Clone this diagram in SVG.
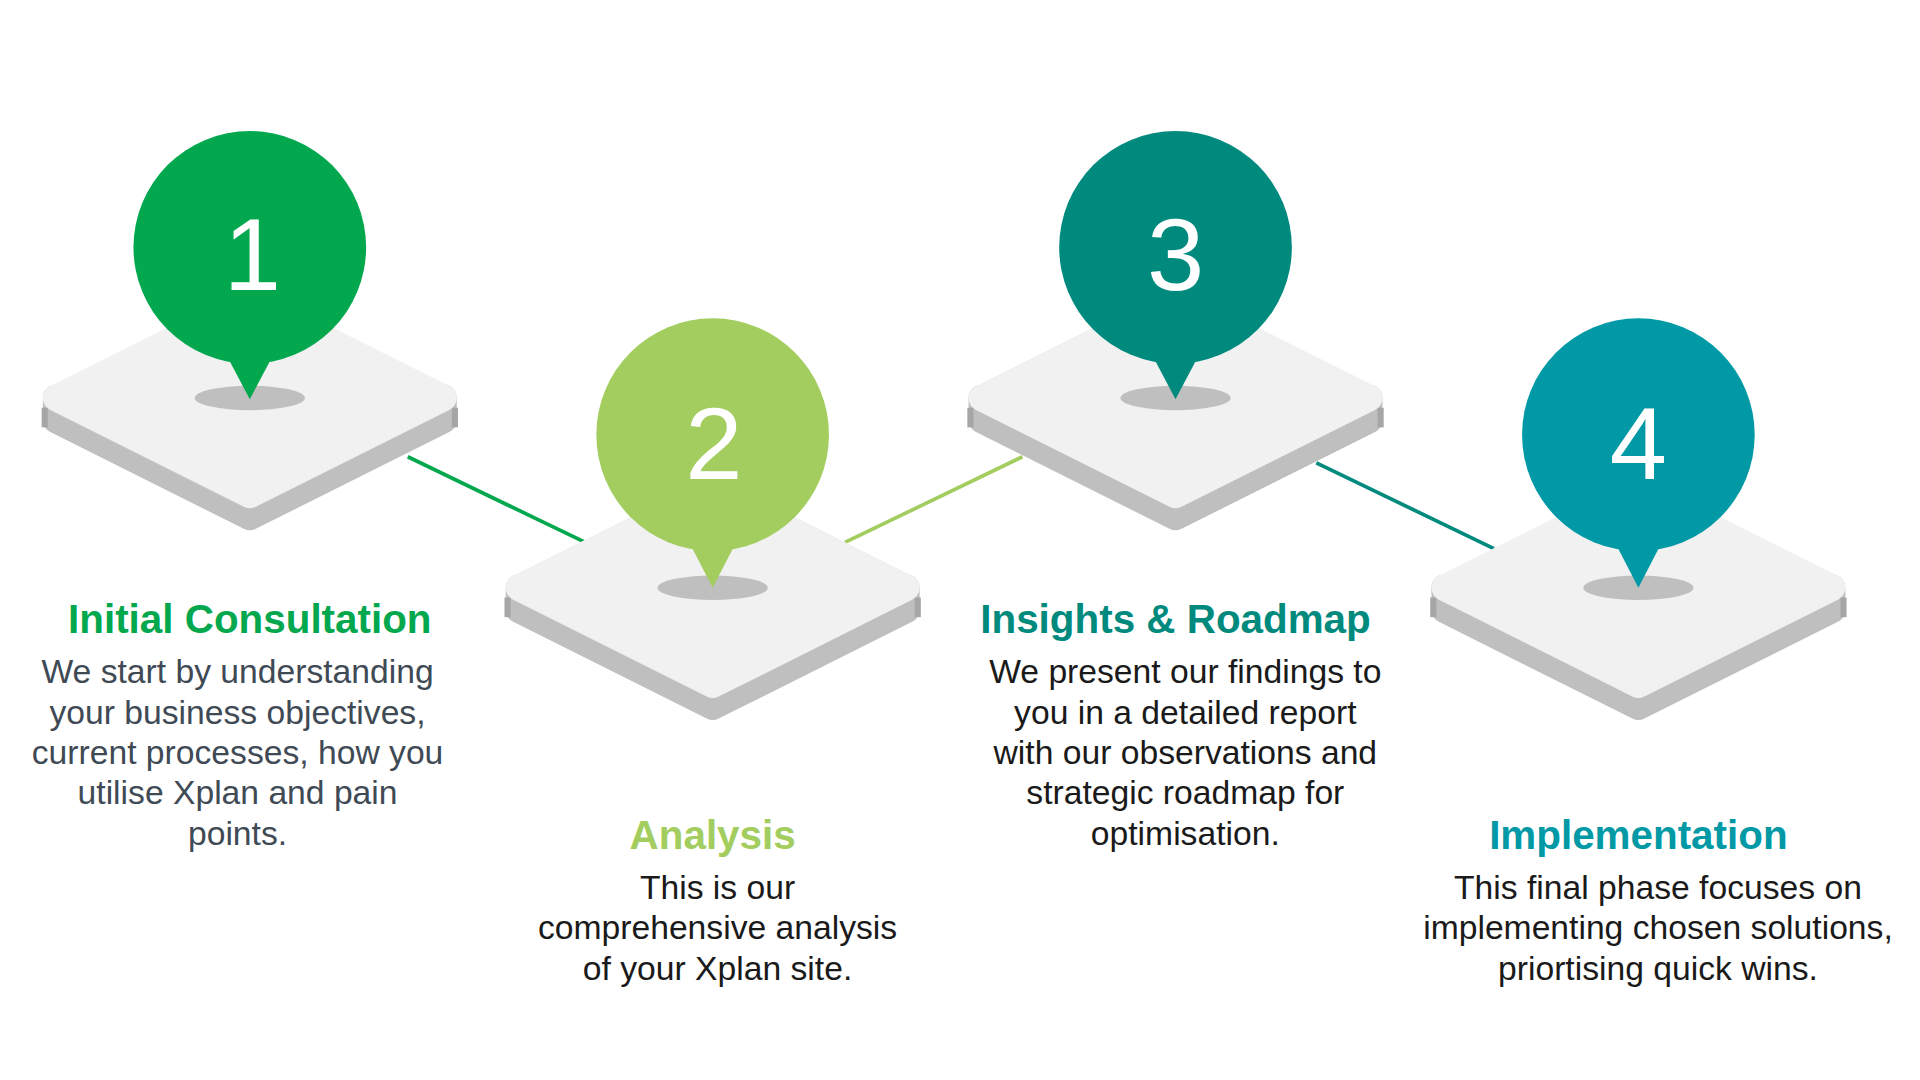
<svg xmlns="http://www.w3.org/2000/svg" width="1920" height="1080" viewBox="0 0 1920 1080">
<defs>
<style>
.top{fill:#f1f1f1;stroke:#f1f1f1;stroke-width:22;stroke-linejoin:round}
.side{fill:#bfbfbf;stroke:#bfbfbf;stroke-width:22;stroke-linejoin:round}
.sh{fill:#bfbfbf}
.num{font-family:"Liberation Sans",Arial,sans-serif;font-size:84px;fill:#fff;text-anchor:middle}
.t{font-family:"Liberation Sans",Arial,sans-serif;font-weight:bold;font-size:33px;text-anchor:middle}
.d{font-family:"Liberation Sans",Arial,sans-serif;font-size:27.5px;fill:#1a1a1a;text-anchor:middle}
</style>
<g id="plat">
<polygon class="side" points="-158,18 0,97 158,18 158,0 -158,0"/>
<polygon class="top" points="-158,0 0,-79 158,0 0,79"/>
<rect x="-170" y="8" width="5" height="16" fill="#a6a6a6"/>
<rect x="165" y="8" width="5" height="16" fill="#a6a6a6"/>
<ellipse class="sh" cx="0" cy="0" rx="45" ry="10"/>
</g>
</defs>
<rect width="1920" height="1080" fill="#fff"/>
<g transform="scale(1.2245)">
<g id="connectors" stroke-width="3">
<line x1="333" y1="373" x2="478" y2="443" stroke="#03a84e"/>
<line x1="690" y1="443" x2="835" y2="373" stroke="#a3cd5e"/>
<line x1="1075" y1="378" x2="1220" y2="448" stroke="#008a7e"/>
</g>
<g id="node1">
<use href="#plat" x="204" y="325"/>
<circle cx="204" cy="202" r="95" fill="#03a84e"/>
<polygon points="186,292 222,292 204,326" fill="#03a84e"/>
<text class="num" x="206" y="237">1</text>
<text class="t" x="204" y="517" fill="#03a84e">Initial Consultation</text>
<text class="d" x="194" y="558" style="fill:#404a55">We start by understanding<tspan x="194" dy="33">your business objectives,</tspan><tspan x="194" dy="33">current processes, how you</tspan><tspan x="194" dy="33">utilise Xplan and pain</tspan><tspan x="194" dy="33">points.</tspan></text>
</g>
<g id="node2">
<use href="#plat" x="582" y="480"/>
<circle cx="582" cy="355" r="95" fill="#a3cd5e"/>
<polygon points="564,445 600,445 582,480" fill="#a3cd5e"/>
<text class="num" x="583" y="391">2</text>
<text class="t" x="582" y="693" fill="#a3cd5e">Analysis</text>
<text class="d" x="586" y="734">This is our<tspan x="586" dy="33">comprehensive analysis</tspan><tspan x="586" dy="33">of your Xplan site.</tspan></text>
</g>
<g id="node3">
<use href="#plat" x="960" y="325"/>
<circle cx="960" cy="202" r="95" fill="#008a7e"/>
<polygon points="942,292 978,292 960,326" fill="#008a7e"/>
<text class="num" x="960" y="237">3</text>
<text class="t" x="960" y="517" fill="#008a7e">Insights &amp; Roadmap</text>
<text class="d" x="968" y="558">We present our findings to<tspan x="968" dy="33">you in a detailed report</tspan><tspan x="968" dy="33">with our observations and</tspan><tspan x="968" dy="33">strategic roadmap for</tspan><tspan x="968" dy="33">optimisation.</tspan></text>
</g>
<g id="node4">
<use href="#plat" x="1338" y="480"/>
<circle cx="1338" cy="355" r="95" fill="#0099a5"/>
<polygon points="1320,445 1356,445 1338,480" fill="#0099a5"/>
<text class="num" x="1338" y="391">4</text>
<text class="t" x="1338" y="693" fill="#0099a5">Implementation</text>
<text class="d" x="1354" y="734">This final phase focuses on<tspan x="1354" dy="33">implementing chosen solutions,</tspan><tspan x="1354" dy="33">priortising quick wins.</tspan></text>
</g>
</g>
</svg>
